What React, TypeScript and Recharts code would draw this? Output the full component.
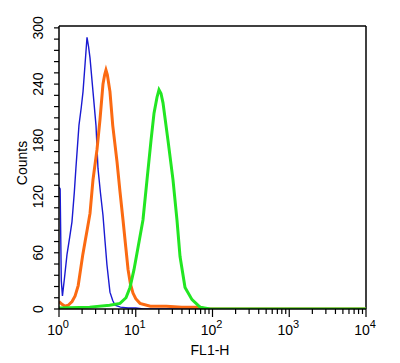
import { ComposedChart, Line, XAxis, YAxis, ReferenceLine } from 'recharts'

// x positions are in decades (log10 of FL1-H), y is counts
const blueX = [0, 0.015, 0.03, 0.045, 0.07, 0.104, 0.14, 0.169, 0.2, 0.22, 0.26, 0.29, 0.313, 0.34, 0.365, 0.385, 0.404, 0.443, 0.482, 0.508, 0.54, 0.573, 0.6, 0.625, 0.664, 0.7, 0.73, 0.8, 0.9, 1.0, 1.1, 4]
const blueY = [130, 128, 30, 14, 32, 58, 77, 93, 125, 150, 196, 215, 232, 262, 290, 280, 268, 232, 196, 150, 124, 100, 72, 47, 18, 9, 4, 2, 1, 1, 0, 0]

const orangeX = [0, 0.04, 0.078, 0.12, 0.17, 0.21, 0.25, 0.31, 0.34, 0.37, 0.404, 0.443, 0.495, 0.534, 0.573, 0.595, 0.612, 0.63, 0.664, 0.7, 0.756, 0.795, 0.834, 0.87, 0.9, 0.93, 0.964, 1.0, 1.055, 1.19, 1.4, 1.6, 1.84, 1.9, 4]
const orangeY = [8, 5, 3, 4, 8, 14, 25, 58, 72, 86, 102, 138, 170, 202, 240, 250, 255, 250, 232, 196, 157, 125, 95, 66, 42, 27, 17, 11, 6, 3, 3, 2, 2, 0, 0]

const greenX = [0, 0.4, 0.66, 0.795, 0.873, 0.925, 0.977, 1.03, 1.094, 1.147, 1.199, 1.238, 1.277, 1.303, 1.329, 1.355, 1.42, 1.485, 1.537, 1.577, 1.642, 1.733, 1.837, 1.97, 4]
const greenY = [1, 2, 4, 6, 12, 23, 42, 66, 95, 138, 180, 209, 226, 234, 230, 220, 180, 138, 95, 56, 23, 10, 2, 0, 0]

const yMajor = [0, 60, 120, 180, 240, 300]
const decades = [0, 1, 2, 3, 4]

const zip = (xs: number[], ys: number[]) => xs.map((x, i) => ({ x, y: ys[i] }))

// all tick positions incl. minor ones
const yTicks: number[] = []
for (let v = 0; v <= 300; v += 12) yTicks.push(v)
const xTicks: number[] = []
decades.forEach((d) => {
  if (d === 4) { xTicks.push(d); return }
  for (let k = 1; k <= 9; k++) xTicks.push(d + Math.log10(k))
})

const font = '"Liberation Sans", Arial, sans-serif'

function YTick({ x, y, payload }: any) {
  const v = payload.value
  const major = yMajor.includes(v)
  return (
    <g>
      <line x1={x - 5} x2={x} y1={y} y2={y} stroke="#000" strokeWidth={1.2} />
      {major && (
        <text x={x - 16} y={y} transform={`rotate(-90 ${x - 16} ${y})`} textAnchor="middle" fontSize={14} fontFamily={font} fill="#000">
          {v}
        </text>
      )}
    </g>
  )
}

function XTick({ x, y, payload }: any) {
  const v = payload.value
  const major = Math.abs(v - Math.round(v)) < 1e-6
  return (
    <g>
      <line x1={x} x2={x} y1={y} y2={y + (major ? 8 : 5)} stroke="#000" strokeWidth={1.2} />
      {major && (
        <text x={x - 1} y={y + 26} textAnchor="middle" fontSize={14} fontFamily={font} fill="#000">
          <tspan>10</tspan>
          <tspan dy={-7} fontSize={11}>{Math.round(v)}</tspan>
        </text>
      )}
    </g>
  )
}

export default function App() {
  return (
    <div style={{ position: 'absolute', left: 0, top: 0, width: 400, height: 363, background: '#fff' }}>
      <ComposedChart width={400} height={363} margin={{ top: 26, right: 34, bottom: 0, left: 0 }}>
        <XAxis
          type="number"
          dataKey="x"
          domain={[0, 4]}
          ticks={xTicks}
          interval={0}
          tickSize={0}
          tickMargin={0}
          tickLine={false}
          tick={<XTick />}
          height={54}
          axisLine={{ stroke: '#000', strokeWidth: 1.5 }}
          allowDataOverflow
        />
        <YAxis
          type="number"
          domain={[0, 302]}
          ticks={yTicks}
          interval={0}
          tickSize={0}
          tickMargin={0}
          tickLine={false}
          tick={<YTick />}
          width={59}
          axisLine={{ stroke: '#000', strokeWidth: 1.5 }}
          allowDataOverflow
        />
        <ReferenceLine y={302} stroke="#000" strokeWidth={1.5} />
        <ReferenceLine x={4} stroke="#000" strokeWidth={1.5} />
        <Line data={zip(blueX, blueY)} dataKey="y" type="linear" stroke="#1a1ad2" strokeWidth={1.4} dot={false} isAnimationActive={false} />
        <Line data={zip(orangeX, orangeY)} dataKey="y" type="linear" stroke="#fb6a12" strokeWidth={3} dot={false} isAnimationActive={false} />
        <Line data={zip(greenX, greenY)} dataKey="y" type="linear" stroke="#22e622" strokeWidth={3} dot={false} isAnimationActive={false} />
      </ComposedChart>
      <div style={{ position: 'absolute', left: 22, top: 163, transform: 'translate(-50%, -50%) rotate(-90deg)', fontFamily: font, fontSize: 14, whiteSpace: 'nowrap' }}>
        Counts
      </div>
      <div style={{ position: 'absolute', left: 210, top: 350, transform: 'translate(-50%, -50%)', fontFamily: font, fontSize: 14 }}>
        FL1-H
      </div>
    </div>
  )
}
